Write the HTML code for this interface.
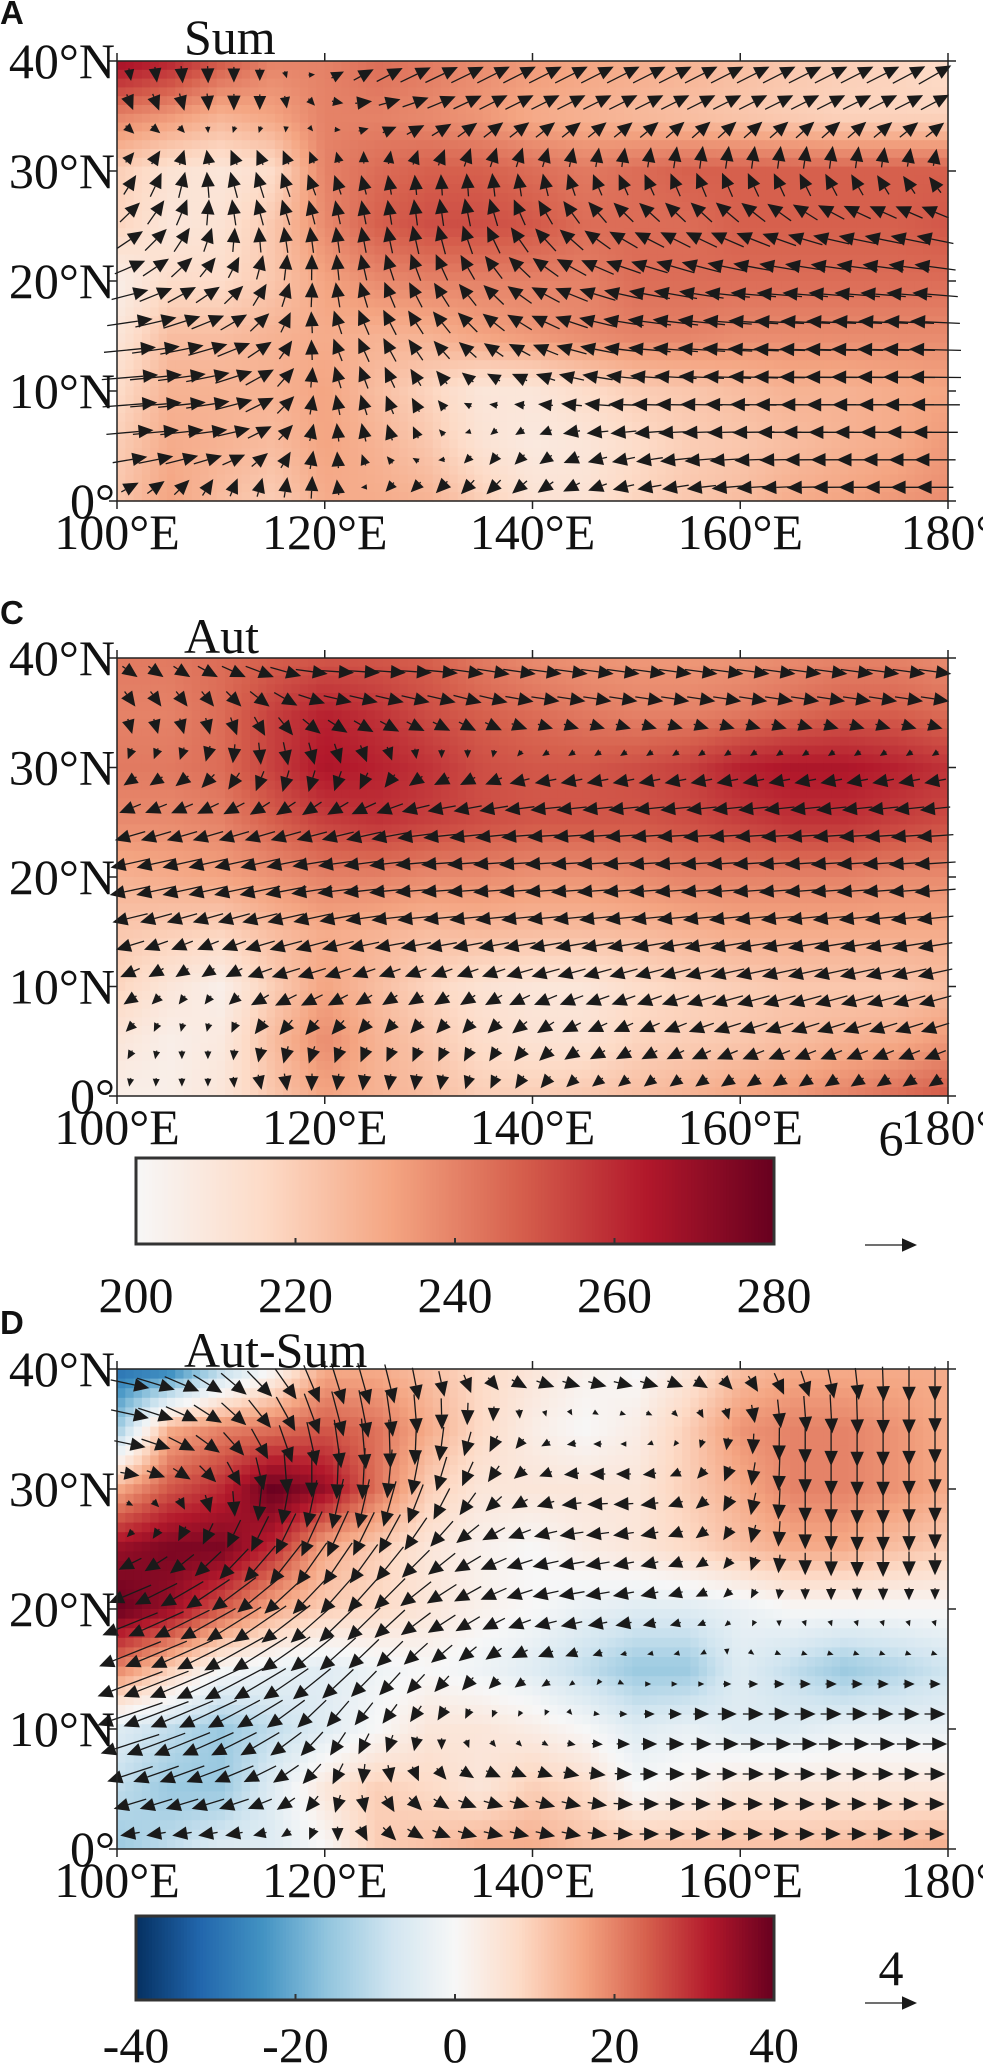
<!DOCTYPE html>
<html><head><meta charset="utf-8">
<style>
html,body{margin:0;padding:0;background:#fff;}
svg{display:block;}
text{font-family:"Liberation Serif",serif;fill:#111;}
.lbl{font-size:50px;}
.pl{font-family:"Liberation Sans",sans-serif;font-weight:bold;font-size:33px;}
</style></head>
<body>
<svg id="fig" width="983" height="2064" viewBox="0 0 983 2064" xmlns="http://www.w3.org/2000/svg">
<g id="root"></g>
</svg>
<script>
// ---- data ----
const lons = [100,105,110,115,120,125,130,135,140,145,150,155,160,165,170,175,180];
const lats = [40,35,30,25,20,15,10,5,0];
const sumField = [
[268,262,250,240,240,245,242,238,235,232,230,228,225,222,220,218,215],
[240,235,228,232,240,240,238,235,230,228,226,224,222,220,218,218,218],
[220,212,210,215,240,245,248,248,245,242,245,248,248,248,248,248,248],
[218,210,212,222,238,248,252,252,250,245,245,245,248,248,248,248,250],
[205,215,215,222,232,238,240,240,240,240,245,245,245,245,245,245,245],
[210,225,225,228,230,228,228,232,235,238,240,240,238,238,238,238,238],
[215,228,228,228,232,225,218,210,210,215,220,222,225,228,228,230,232],
[220,230,228,225,232,228,222,212,208,210,215,220,222,225,228,230,235],
[222,232,225,220,230,230,228,220,212,212,218,222,225,230,232,235,238]];
const sumU = [
[0,0,0,0,1,3,4,4,4,4,4,4,4,4,4,4,4],
[1,1,0,0,1,2,3,3,3,3,3,3,3,3,3,3,3],
[1,1,-1,-1,-1,-0.5,0,0,0,-0.5,-0.5,-0.5,-0.5,-0.5,-0.5,-0.5,-0.5],
[3,2,0,-1,-0.5,-0.5,-0.5,-1,-2,-2.5,-3,-3,-3.5,-3.5,-4,-4,-4],
[4,3,2,1,0,-1,-1.5,-2,-3,-4,-4.5,-5,-5,-5,-5,-5,-5],
[6,5,4,2,-1,-1.5,-2,-2.5,-3,-4,-5,-5.5,-6,-6,-6,-6,-6],
[7,6,5,3,-0.5,-1,-1,-1,-1.5,-3,-4,-5,-5.5,-6,-6,-6,-6],
[5,5,4,2,0,-0.5,-0.5,-0.5,-1,-2,-3,-4,-4.5,-5,-5,-5,-5],
[1,1,0,0,0,-1,-1.5,-2,-2,-2,-2.5,-3,-3.5,-4,-4,-4,-4]];
const sumV = [
[-1,-2,-2,-1,1,2,2,2,2,2,2,2,2,2,2,2,2.5],
[-2,-2,-2,-2,-1,0,1,1.5,1.5,1.5,1.5,1.5,1.5,1.5,1.5,1.5,1.5],
[2,3,3,3,2,2,2,2.5,2.5,2.5,2.5,3,3,3,3,2.5,2],
[2,3,3,3,3,3,3.5,3.5,3,2.5,2,2,2,1.5,1,1,1],
[1,2,2,3,3,3,3,2.5,2,1.5,1,1,0.5,0.5,0.5,0.5,0.5],
[0.5,1,1.5,2,2.5,3,2.5,2,1.5,1,0.5,0.5,0.3,0.2,0.2,0.2,0.2],
[0.5,0.5,1,2,2.5,2.5,1.5,0.5,0.5,0.5,0.3,0.2,0.2,0,0,0,0],
[0.5,0.5,0.5,1.5,2,2,1,-1,-1,-0.5,-0.5,-0.3,-0.2,0,0,0,0],
[1,2,2.5,2.5,3,-2,-2,-2,-1.5,-1,-0.5,-0.5,-0.3,-0.2,0,0,0]];
const autField = [
[242,242,245,248,250,250,248,242,238,236,235,235,236,238,240,240,238],
[240,240,245,255,262,258,252,248,245,242,240,240,242,245,248,248,245],
[242,242,245,255,265,262,258,252,250,250,252,255,262,265,265,262,258],
[238,238,240,248,255,258,255,252,250,250,250,252,255,258,258,255,252],
[228,230,232,236,240,240,238,238,236,236,238,240,240,240,240,238,238],
[222,220,218,225,230,228,225,226,225,225,226,228,230,230,230,230,230],
[218,210,205,220,232,225,218,212,210,210,215,218,220,222,222,222,225],
[210,205,208,225,238,228,222,215,212,212,218,220,222,225,228,230,235],
[205,205,210,222,232,228,225,220,220,222,225,228,232,235,240,245,250]];
const autU = [
[2,2,3,4,4,4,4,4,4,4,4,4,4,4,4,4,4],
[1,1,1,2,3,3,3,3,3,3,3,3,3,3,3,3,3],
[-1,-1,-1,0,0,0,-1,-1,-2,-2,-2,-2,-2,-2,-2,-2,-2],
[-3,-3,-3,-3,-3,-4,-4,-4,-4,-4,-4,-4,-4,-4,-4,-4,-4],
[-5,-5,-5,-5,-5,-5,-5,-5,-5,-5,-5,-5,-5,-5,-5,-5,-5],
[-4,-3,-3,-4,-4,-4,-4,-4,-4,-4,-4,-4,-4,-4,-4,-4,-4],
[-2,-1,-1,-3,-3,-2,-2,-2,-3,-3,-3,-3.5,-4,-4,-4,-4,-4],
[-1,0,0,-1,-1,-1,-1,-1,-1.5,-2,-2,-2.5,-3,-3,-3,-3,-3],
[0,0,0,1,0,0,0,-0.5,-1,-1,-1,-1,-1,-1,-1,-1,-1]];
const autV = [
[-1,-1,-1,-1,0,0,0,-0.5,-0.5,-0.5,-0.5,-0.5,-0.5,-0.5,-0.5,-0.5,-0.5],
[-2,-2,-2,-2,-1,-1,-1,-1,-0.5,-0.5,-0.5,-0.5,-0.5,-0.5,-0.5,-0.5,-0.5],
[-1,-1,-2,-3,-3,-2,-1,-1,-0.5,-0.5,-0.5,-0.5,-0.5,-0.5,-0.5,-0.5,-0.5],
[-1,-1,-1,-1,-1,-1,-0.5,-0.5,-0.3,-0.3,-0.3,-0.3,-0.3,-0.3,-0.3,-0.3,-0.3],
[-1,-1,-1,-1,-0.5,-0.5,-0.3,-0.3,-0.3,-0.3,-0.3,-0.3,-0.3,-0.3,-0.3,-0.3,-0.3],
[-1,-1,-1,-1,-1,-0.5,-0.5,-0.5,-0.5,-0.5,-0.5,-0.5,-0.5,-0.5,-0.5,-0.5,-0.5],
[-1,-1,-1,-1,-1,-1,-1,-1,-1,-1,-1,-1,-1,-1,-1,-1,-1],
[-1,-1,-1,-2,-2,-1.5,-1.5,-1.5,-1.5,-1,-1,-1,-1,-1,-1,-1,-1],
[-1,-1,-1,-2,-2,-2,-2,-1.5,-1.5,-1,-1,-1,-1,-1,-1,-1,-1]];
const diffField = [
[-30,-28,-12,0,15,15,12,8,5,2,0,5,12,15,15,15,15],
[-15,15,20,22,25,22,15,8,3,0,3,10,18,20,20,18,15],
[15,25,30,40,35,22,10,5,5,5,5,10,15,20,20,18,15],
[35,38,38,30,15,10,5,2,0,3,5,8,12,15,15,12,10],
[40,35,25,15,10,8,5,2,0,-3,-5,-5,-3,0,0,0,0],
[20,10,0,-3,-5,-2,0,-2,-5,-10,-15,-15,-5,-10,-15,-12,-8],
[-5,-10,-15,-10,-5,0,5,5,3,0,-5,-3,-5,-5,-3,-3,-3],
[-10,-15,-15,-5,5,10,8,5,10,8,0,2,5,5,5,5,5],
[-15,-10,-5,-5,0,10,12,15,15,12,12,12,12,12,13,14,15]];
const diffU = [
[3,3,2,2,1,1,0.5,1,2,2,2,1.5,1,1,0.5,0,0],
[3,2.5,2,1.5,1,0.5,0,-0.5,-0.5,-0.5,0,0,0,0,0,0,0],
[1,1,1,0,-0.5,-0.5,-1,-1,-1,-1.5,-1.5,-1,-0.5,0,0,0,0],
[-1,-1,-1.5,-2,-2,-2,-2,-2,-2,-2,-1.5,-1,-0.5,0,0,0,0],
[-4,-4,-4,-4,-3,-2.5,-2.5,-2,-2,-2,-1.5,-1,-0.5,0,0,0,0],
[-5,-5,-5,-4,-3,-2,-1.5,-1,-1,-0.5,0,0,0.3,0.5,0.5,0.5,0.5],
[-5,-5,-4,-3,-1.5,-1,-0.5,0,0,0.5,1,1.5,2,2,2,2,2],
[-3,-3,-3,-2,-1,0.5,1,1.5,1.5,1.5,1.5,1.5,1.5,1.5,1.5,1.5,1.5],
[-1,-1,-1,-0.5,0,1,1.5,1.5,1.5,1.5,1.5,1.5,1.5,1.5,1.5,1.5,1.5]];
const diffV = [
[-0.5,-1,-1.5,-2,-3,-3,-2,-1,-0.5,-0.5,-0.5,-0.5,-1,-1.5,-2,-2.5,-2.5],
[-0.5,-1,-1.5,-2.5,-3.5,-4,-3,-1.5,-0.5,0,0,-0.5,-1,-3,-3.5,-3.5,-3],
[0,-0.5,-1.5,-3,-4,-4,-3,-1.5,-0.5,0,0,-0.5,-1.5,-3,-3.5,-3.5,-3],
[-0.5,-1,-2,-3,-3.5,-3,-2,-1,-0.5,-0.3,-0.3,-0.5,-1,-2,-2.5,-2.5,-2],
[-1.5,-2,-2.5,-3,-3,-2.5,-1.5,-1,-0.5,-0.3,-0.3,-0.3,-0.5,-0.5,-0.5,-0.5,-0.5],
[-2,-2,-2.5,-2.5,-2.5,-2,-1.5,-1,-0.5,-0.3,0,0,0,0,0,0,0],
[-1.5,-2,-2,-2,-2,-1.5,-1,-0.5,-0.3,0,0,0,0,0,0,0,0],
[-1,-1,-1,-1,-1.5,-1.5,-1,-0.5,-0.5,-0.3,0,0,0,0,0,0,0],
[0,0,0,0,-1,-1,-0.5,-0.3,-0.3,-0.3,0,0,0,0,0,0,0]];
const xTickLabels = ["100°E","120°E","140°E","160°E","180°"];
const xTickVals = [100,120,140,160,180];
const yTickLabels = ["40°N","30°N","20°N","10°N","0°"];
const yTickVals = [40,30,20,10,0];
const cbTicks1 = [200,220,240,260,280];
const cbTicks2 = [-40,-20,0,20,40];

// ---- drawing ----
const NS="http://www.w3.org/2000/svg";
const root=document.getElementById('root');
function mk(tag,attrs,parent){const e=document.createElementNS(NS,tag);for(const k in attrs)e.setAttribute(k,attrs[k]);(parent||root).appendChild(e);return e;}
const rdbu=["#053061","#2166ac","#4393c3","#92c5de","#d1e5f0","#f7f7f7","#fddbc7","#f4a582","#d6604d","#b2182b","#67001f"];
function hex(h){return [parseInt(h.substr(1,2),16),parseInt(h.substr(3,2),16),parseInt(h.substr(5,2),16)];}
function cmap(stops,t){t=Math.max(0,Math.min(1,t));const n=stops.length-1;const i=Math.min(n-1,Math.floor(t*n));const f=t*n-i;const a=hex(stops[i]),b=hex(stops[i+1]);return `rgb(${Math.round(a[0]+(b[0]-a[0])*f)},${Math.round(a[1]+(b[1]-a[1])*f)},${Math.round(a[2]+(b[2]-a[2])*f)})`;}
function interp(F,lon,lat){let fx=(lon-100)/5,fy=(40-lat)/5;let i=Math.min(15,Math.max(0,Math.floor(fx))),j=Math.min(7,Math.max(0,Math.floor(fy)));let dx=fx-i,dy=fy-j;
return F[j][i]*(1-dx)*(1-dy)+F[j][i+1]*dx*(1-dy)+F[j+1][i]*(1-dx)*dy+F[j+1][i+1]*dx*dy;}

function panel(cfg){
  const g=mk('g',{});
  
  
  const x0=117,x1=948,y0=cfg.top,y1=cfg.bottom;
  const X=lon=>x0+(lon-100)/80*(x1-x0);
  const Y=lat=>y1-(lat/40)*(y1-y0);
  const hm=mk('g',{},g);
  
  
  const step=0.8;
  for(let r=0;r<50;r++){for(let c=0;c<100;c++){
    const lat=40-r*step,lon=100+c*step;
    const val=interp(cfg.field,lon+step/2,lat-step/2);
    const e=mk('rect',{x:X(lon).toFixed(1),y:Y(lat).toFixed(1),width:(X(lon+step)-X(lon)+0.6).toFixed(1),height:(Y(lat-step)-Y(lat)+0.6).toFixed(1),fill:cfg.color(val)},hm);
    
    
  }}
  const aw=mk('g',{fill:'#1a1a1a',stroke:'#1a1a1a'},g);
  
  
  for(let lat=38.75;lat>0;lat-=2.5){for(let lon=101.25;lon<180;lon+=2.5){
    const u=interp(cfg.u,lon,lat),v=interp(cfg.v,lon,lat);
    drawArrow(aw,X(lon),Y(lat),u*cfg.scale,-v*cfg.scale);
  }}
  mk('rect',{x:x0,y:y0,width:x1-x0,height:y1-y0,fill:'none',stroke:'#222','stroke-width':1.5},g);
  xTickVals.forEach((v,k)=>{const x=X(v);
    mk('line',{x1:x,x2:x,y1:y0-8,y2:y0,stroke:'#222','stroke-width':1.5},g);
    mk('line',{x1:x,x2:x,y1:y1,y2:y1+8,stroke:'#222','stroke-width':1.5},g);
    const t=mk('text',{x:x,y:y1+48,'text-anchor':'middle',class:'lbl'},g);t.textContent=xTickLabels[k];
    });
  yTickVals.forEach((v,k)=>{const y=Y(v);
    mk('line',{x1:x0-8,x2:x0,y1:y,y2:y,stroke:'#222','stroke-width':1.5},g);
    mk('line',{x1:x1,x2:x1+8,y1:y,y2:y,stroke:'#222','stroke-width':1.5},g);
    const t=mk('text',{x:x0-2,y:y+17,'text-anchor':'end',class:'lbl'},g);t.textContent=yTickLabels[k];
    });
  const pl=mk('text',{x:0,y:cfg.letterY,class:'pl'},g);pl.textContent=cfg.letter;
  
  const tt=mk('text',{x:cfg.titleX,y:cfg.titleY,class:'lbl'},g);tt.textContent=cfg.title;
  
}
function drawArrow(g,cx,cy,dx,dy){
  const L=Math.hypot(dx,dy);if(L<0.5)return;
  const ux=dx/L,uy=dy/L;const hl=Math.min(15,Math.max(6,L*0.9)),hw=hl*0.45;
  const tx=cx-dx/2,ty=cy-dy/2,hx=cx+dx/2,hy=cy+dy/2;
  if(L>hl){const l=mk('line',{x1:tx.toFixed(1),y1:ty.toFixed(1),x2:(hx-ux*hl).toFixed(1),y2:(hy-uy*hl).toFixed(1),'stroke-width':1.3},g);
    }
  const bx=hx-ux*hl,by=hy-uy*hl;
  const p=mk('polygon',{points:`${hx.toFixed(1)},${hy.toFixed(1)} ${(bx-uy*hw).toFixed(1)},${(by+ux*hw).toFixed(1)} ${(bx+uy*hw).toFixed(1)},${(by-ux*hw).toFixed(1)}`,stroke:'none'},g);
  
}
function colorbar(cfg){
  const g=mk('g',{});
  
  
  const x0=136,x1=774,y0=cfg.top,y1=cfg.bottom;const n=200;
  for(let i=0;i<n;i++){const v=cfg.min+(cfg.max-cfg.min)*(i+0.5)/n;
    mk('rect',{x:(x0+(x1-x0)*i/n).toFixed(2),y:y0,width:((x1-x0)/n+0.6).toFixed(2),height:y1-y0,fill:cfg.color(v)},g);}
  mk('rect',{x:x0,y:y0,width:x1-x0,height:y1-y0,fill:'none',stroke:'#333','stroke-width':3},g);
  cfg.ticks.forEach(v=>{const x=x0+(v-cfg.min)/(cfg.max-cfg.min)*(x1-x0);
    mk('line',{x1:x,x2:x,y1:y1-6,y2:y1,stroke:'#333','stroke-width':2},g);
    const t=mk('text',{x:x,y:cfg.labelY,'text-anchor':'middle',class:'lbl'},g);t.textContent=String(v);
    });
  const rl=mk('text',{x:891,y:cfg.refLabelY,'text-anchor':'middle',class:'lbl'},g);rl.textContent=cfg.ref;
  
  const ra=mk('g',{fill:'#1a1a1a',stroke:'#1a1a1a'},g);
  
  drawArrow(ra,891,cfg.refArrowY,52,0);
}
const col1=v=>cmap(rdbu.slice(5),(v-200)/80);
const col2=v=>cmap(rdbu,(v+40)/80);
panel({name:'panel-a-summer',top:61,bottom:501,field:sumField,u:sumU,v:sumV,scale:52/6,color:col1,letter:'A',letterY:24,title:'Sum',titleX:184,titleY:54});
panel({name:'panel-c-autumn',top:658,bottom:1096,field:autField,u:autU,v:autV,scale:52/6,color:col1,letter:'C',letterY:624,title:'Aut',titleX:184,titleY:653});
colorbar({name:'colorbar-absolute',top:1158,bottom:1244,min:200,max:280,ticks:cbTicks1,labelY:1312,color:col1,ref:'6',refLabelY:1155,refArrowY:1245});
panel({name:'panel-d-difference',top:1369,bottom:1849,field:diffField,u:diffU,v:diffV,scale:13,color:col2,letter:'D',letterY:1334,title:'Aut-Sum',titleX:184,titleY:1367});
colorbar({name:'colorbar-difference',top:1916,bottom:2000,min:-40,max:40,ticks:cbTicks2,labelY:2062,color:col2,ref:'4',refLabelY:1985,refArrowY:2003});
</script>
</body></html>
